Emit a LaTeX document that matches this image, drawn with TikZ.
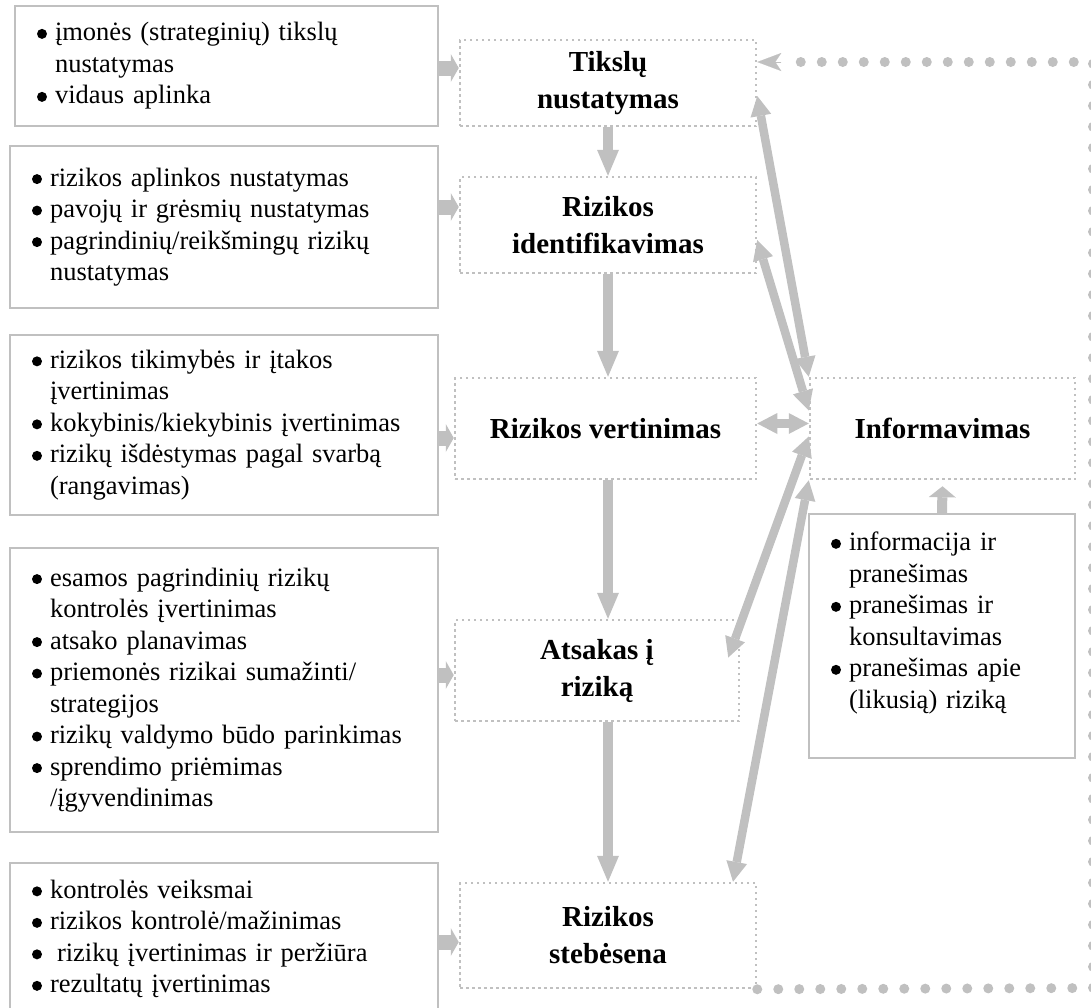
\documentclass[tikz,border=0pt]{standalone}
\usepackage{fontspec}
\setmainfont{Liberation Serif}
\usetikzlibrary{arrows.meta}
\definecolor{linegray}{HTML}{C0C0C0}
\newcommand{\lbul}{\makebox[18pt][l]{\tikz[baseline={(0pt,0pt)}]\fill (5pt,7pt) circle (5pt);}}
\newcommand{\lind}{\hspace*{18pt}}

\begin{document}
\begin{tikzpicture}[
		x=1pt, y=-1pt,
		list box/.style={draw=linegray, line width=2pt, inner xsep=22pt, inner ysep=0pt, align=left, font=\fontsize{26.5}{31.5}\selectfont},
		step box/.style={draw=linegray, line width=2.5pt, dash pattern=on 2.5pt off 3.5pt, align=center, font=\bfseries\fontsize{29}{37}\selectfont},
		side arrow/.style={draw=linegray, line width=15pt, -{Triangle[length=8pt,width=28pt,line width=0pt]}},
		flow arrow/.style={draw=linegray, line width=10pt, -{Triangle[length=26pt,width=22pt,line width=0pt]}},
		link arrow/.style={draw=linegray, line width=8.5pt, {Triangle[length=20pt,width=21pt,line width=0pt]}-{Triangle[length=20pt,width=21pt,line width=0pt]}},
		loop line/.style={draw=linegray, line width=10pt, line cap=round, dash pattern=on 0pt off 21pt},
		loop head/.style={draw=linegray, fill=linegray, line width=0.1pt, -{Stealth[length=24pt,width=18pt,inset=6pt]}}
	]
		\useasboundingbox (0,0) rectangle (1091,1007);

		\node[list box, text width=379pt, minimum height=120pt] (l1) at (226.5,66) {\lbul įmonės (strateginių) tikslų\\ \lind nustatymas\\ \lbul vidaus aplinka};
		\node[list box, text width=384pt, minimum height=162pt] (l2) at (224,227) {\lbul rizikos aplinkos nustatymas\\ \lbul pavojų ir grėsmių nustatymas\\ \lbul pagrindinių/reikšmingų rizikų\\ \lind nustatymas};
		\node[list box, text width=384pt, minimum height=180pt] (l3) at (224,425) {\lbul rizikos tikimybės ir įtakos\\ \lind įvertinimas\\ \lbul kokybinis/kiekybinis įvertinimas\\ \lbul rizikų išdėstymas pagal svarbą\\ \lind (rangavimas)};
		\node[list box, text width=384pt, minimum height=284pt] (l4) at (224,690) {\lbul esamos pagrindinių rizikų\\ \lind kontrolės įvertinimas\\ \lbul atsako planavimas\\ \lbul priemonės rizikai sumažinti/\\ \lind strategijos\\ \lbul rizikų valdymo būdo parinkimas\\ \lbul sprendimo priėmimas\\ \lind /įgyvendinimas};
		\node[list box, text width=384pt, minimum height=152pt] (l5) at (224,939) {\lbul kontrolės veiksmai\\ \lbul rizikos kontrolė/mažinimas\\ \lbul\hspace{7pt}rizikų įvertinimas ir peržiūra\\ \lbul rezultatų įvertinimas};

		\node[step box, minimum width=296pt, minimum height=86pt] (c1) at (608,83) {Tikslų\\nustatymas};
		\node[step box, minimum width=296pt, minimum height=96pt] (c2) at (608,225) {Rizikos\\identifikavimas};
		\node[step box, minimum width=301pt, minimum height=101pt] (c3) at (605.5,428.5) {Rizikos vertinimas};
		\node[step box, minimum width=284pt, minimum height=101pt] (c4) at (597,670.5) {Atsakas į\\riziką};
		\node[step box, minimum width=296pt, minimum height=105pt] (c5) at (608,935.5) {Rizikos\\stebėsena};

		\node[step box, minimum width=265pt, minimum height=101pt] (info) at (942.5,428.5) {Informavimas};
		\node[list box, text width=222pt, minimum height=244pt] (infolist) at (942,636) {\lbul informacija ir\\ \lind pranešimas\\ \lbul pranešimas ir\\ \lind konsultavimas\\ \lbul pranešimas apie\\ \lind (likusią) riziką\\ \mbox{}};

		\coordinate (lc1) at (1093,988);
		\coordinate (lc2) at (1093,62);
		\coordinate (lc3) at (790,62);

		\foreach \i/\y in {1/68,2/207,3/438,4/675,5/942} {
			\draw[side arrow] (l\i.east |- 0,\y) -- (c\i.west |- 0,\y);
		}

		\foreach \i/\j in {1/2,2/3,3/4,4/5} {
			\draw[flow arrow] (c\i.south -| c1) -- (c\j.north -| c1);
		}

		\draw[side arrow, line width=10pt, -{Triangle[length=11pt,width=27pt,line width=0pt]}] (infolist.north) -- ([yshift=-6pt]info.south);

		\draw[link arrow] ([yshift=-13pt]c1.east) -- (info.north west);
		\draw[link arrow] ([yshift=-15pt]c2.east) -- ([yshift=18pt]info.west);
		\draw[link arrow] ([yshift=5pt]c3.east) -- ([yshift=5pt]info.west);
		\draw[link arrow] ([yshift=-8pt]info.west) -- ([xshift=-12pt,yshift=13pt]c4.east);
		\draw[link arrow] (info.south west) -- ([xshift=125pt]c5.north);

		\draw[loop line] (c5.south east) -- (lc1) -- (lc2) -- (lc3);
		\draw[loop head] ([xshift=24pt]c1.east |- lc2) -- (c1.east |- lc2);
	\end{tikzpicture}
\end{document}
